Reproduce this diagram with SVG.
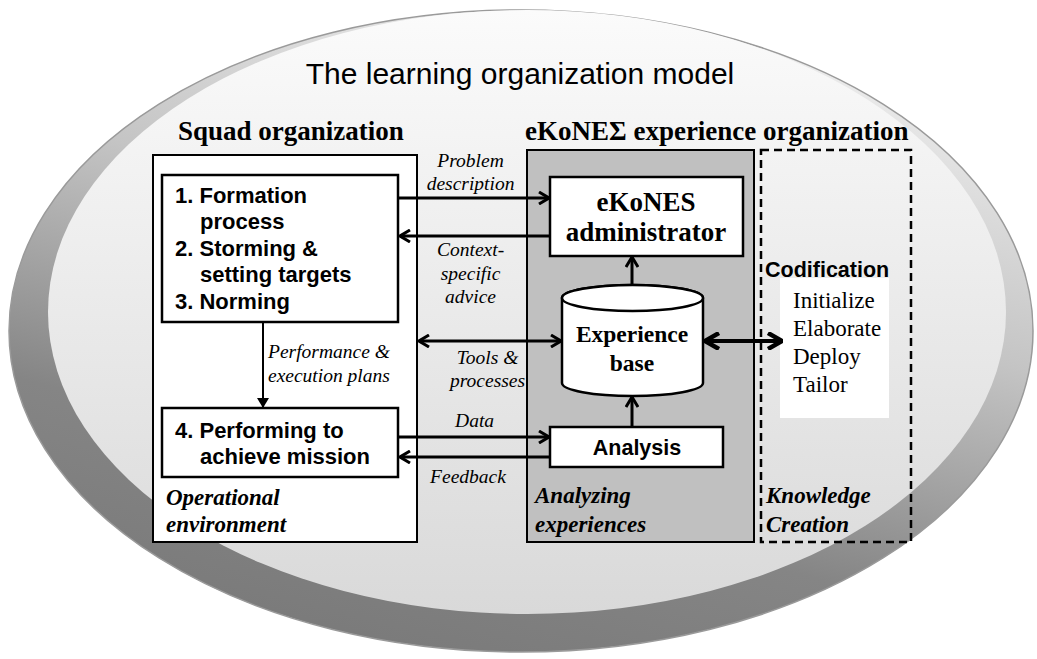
<svg xmlns="http://www.w3.org/2000/svg" width="1037" height="659" viewBox="0 0 1037 659">
  <defs>
    <linearGradient id="ringGrad" x1="0.75" y1="0" x2="0.35" y2="1">
      <stop offset="0" stop-color="#f2f2f2"/>
      <stop offset="0.4" stop-color="#c4c4c4"/>
      <stop offset="0.75" stop-color="#858585"/>
      <stop offset="1" stop-color="#7a7a7a"/>
    </linearGradient>
    <linearGradient id="innerGrad" x1="0" y1="0" x2="0" y2="1">
      <stop offset="0" stop-color="#fbfbfb"/>
      <stop offset="1" stop-color="#d9d9d9"/>
    </linearGradient>
    <marker id="open" viewBox="0 0 12 14" refX="11" refY="7" markerWidth="12" markerHeight="14" markerUnits="userSpaceOnUse" orient="auto-start-reverse">
      <path d="M1,1 L11,7 L1,13" fill="none" stroke="#000" stroke-width="3" stroke-linejoin="miter"/>
    </marker>
    <marker id="bold" viewBox="0 0 16 18" refX="15" refY="9" markerWidth="16" markerHeight="18" markerUnits="userSpaceOnUse" orient="auto-start-reverse">
      <path d="M1,1 L15,9 L1,17" fill="none" stroke="#000" stroke-width="4.5" stroke-linejoin="miter"/>
    </marker>
    <marker id="solid" viewBox="0 0 10 12" refX="10" refY="6" markerWidth="10" markerHeight="12" markerUnits="userSpaceOnUse" orient="auto">
      <path d="M0,0 L10,6 L0,12 Z" fill="#000"/>
    </marker>
    <style>
      .box { fill: #fff; stroke: #000; stroke-width: 2.5; }
      .hdr { font-family: "Liberation Serif", serif; font-weight: bold; font-size: 27px; }
      .step { font-family: "Liberation Sans", Arial, sans-serif; font-weight: bold; font-size: 22px; }
      .lbl { font-family: "Liberation Serif", serif; font-style: italic; font-size: 19.5px; }
      .env { font-family: "Liberation Serif", serif; font-style: italic; font-weight: bold; font-size: 23px; }
      .arr { stroke: #000; stroke-width: 3; fill: none; }
    </style>
  </defs>

  <!-- backdrop ellipses -->
  <ellipse cx="521" cy="331" rx="512" ry="321" fill="url(#ringGrad)" stroke="#9a9a9a" stroke-width="1.5"/>
  <ellipse cx="527" cy="312" rx="479" ry="302" fill="url(#innerGrad)"/>

  <text x="520" y="84" text-anchor="middle" font-family="Liberation Sans, Arial, sans-serif" font-size="30">The learning organization model</text>
  <text x="178" y="140" class="hdr">Squad organization</text>
  <text x="525" y="140" class="hdr">eKoNEΣ experience organization</text>

  <!-- squad organization -->
  <g id="squad">
    <rect x="153" y="155" width="264" height="387" fill="#fff" stroke="#000" stroke-width="2"/>
    <text x="166" y="505" class="env">Operational</text>
    <text x="166" y="532" class="env">environment</text>
  </g>
  <g id="steps123">
    <rect x="162" y="175" width="236" height="147" class="box"/>
    <text class="step">
      <tspan x="175" y="203">1. Formation</tspan>
      <tspan x="200" y="229">process</tspan>
      <tspan x="175" y="256">2. Storming &amp;</tspan>
      <tspan x="200" y="282">setting targets</tspan>
      <tspan x="175" y="309">3. Norming</tspan>
    </text>
  </g>
  <g id="step4">
    <rect x="162" y="408" width="236" height="69" class="box"/>
    <text class="step">
      <tspan x="175" y="438">4. Performing to</tspan>
      <tspan x="200" y="464">achieve mission</tspan>
    </text>
  </g>

  <!-- experience organization -->
  <g id="analyzing">
    <rect x="527" y="150" width="227" height="392" fill="#c0c0c0" stroke="#000" stroke-width="2"/>
    <text x="535" y="503" class="env">Analyzing</text>
    <text x="535" y="532" class="env">experiences</text>
  </g>
  <g id="admin">
    <rect x="550" y="177" width="193" height="79" class="box"/>
    <text x="646" y="211" text-anchor="middle" class="hdr">eKoNES</text>
    <text x="646" y="241" text-anchor="middle" class="hdr">administrator</text>
  </g>
  <g id="expbase">
    <path d="M562,298 L562,383 A70.5,13 0 0 0 703,383 L703,298 A70.5,13 0 0 0 562,298 Z" fill="#fff" stroke="#000" stroke-width="2.5"/>
    <ellipse cx="632.5" cy="298" rx="70.5" ry="13" fill="#fff" stroke="#000" stroke-width="2.5"/>
    <text x="632" y="342" text-anchor="middle" class="hdr" style="font-size:23.5px">Experience</text>
    <text x="632" y="371" text-anchor="middle" class="hdr" style="font-size:23.5px">base</text>
  </g>
  <g id="analysis">
    <rect x="550" y="427" width="173" height="40" class="box"/>
    <text x="637" y="455" text-anchor="middle" class="step" style="font-size:21.5px">Analysis</text>
  </g>

  <!-- knowledge creation -->
  <g id="knowledge">
    <rect x="761" y="150" width="150" height="392" fill="none" stroke="#000" stroke-width="2.5" stroke-dasharray="8,5"/>
    <text x="766" y="503" class="env">Knowledge</text>
    <text x="766" y="532" class="env">Creation</text>
  </g>
  <g id="codification">
    <rect x="780" y="278" width="109" height="140" fill="#fff"/>
    <text x="765" y="277" class="step" style="font-size:21.5px">Codification</text>
    <text font-family="Liberation Serif, serif" font-size="23">
      <tspan x="793" y="308">Initialize</tspan>
      <tspan x="793" y="336">Elaborate</tspan>
      <tspan x="793" y="364">Deploy</tspan>
      <tspan x="793" y="392">Tailor</tspan>
    </text>
  </g>

  <!-- connectors -->
  <g id="connectors">
    <line x1="398" y1="198" x2="549" y2="198" class="arr" marker-end="url(#open)"/>
    <line x1="550" y1="236" x2="400" y2="236" class="arr" marker-end="url(#open)"/>
    <line x1="419" y1="341" x2="561" y2="341" class="arr" marker-start="url(#open)" marker-end="url(#open)"/>
    <line x1="705" y1="341" x2="782" y2="341" stroke="#000" stroke-width="4" marker-start="url(#bold)" marker-end="url(#bold)"/>
    <line x1="398" y1="437" x2="549" y2="437" class="arr" marker-end="url(#open)"/>
    <line x1="550" y1="457" x2="400" y2="457" class="arr" marker-end="url(#open)"/>
    <line x1="632" y1="285" x2="632" y2="257" class="arr" marker-end="url(#open)"/>
    <line x1="632" y1="427" x2="632" y2="397" class="arr" marker-end="url(#open)"/>
    <line x1="263" y1="322" x2="263" y2="408" stroke="#000" stroke-width="2" marker-end="url(#solid)"/>

    <text class="lbl" text-anchor="middle">
      <tspan x="473" y="167">Problem</tspan>
      <tspan x="473" y="190">description</tspan>
      <tspan x="473" y="256">Context-</tspan>
      <tspan x="473" y="280">specific</tspan>
      <tspan x="473" y="303">advice</tspan>
      <tspan x="490" y="364">Tools &amp;</tspan>
      <tspan x="490" y="387">processes</tspan>
      <tspan x="477" y="427">Data</tspan>
      <tspan x="468" y="483">Feedback</tspan>
    </text>
    <text class="lbl">
      <tspan x="268" y="358">Performance &amp;</tspan>
      <tspan x="268" y="382">execution plans</tspan>
    </text>
  </g>
</svg>
